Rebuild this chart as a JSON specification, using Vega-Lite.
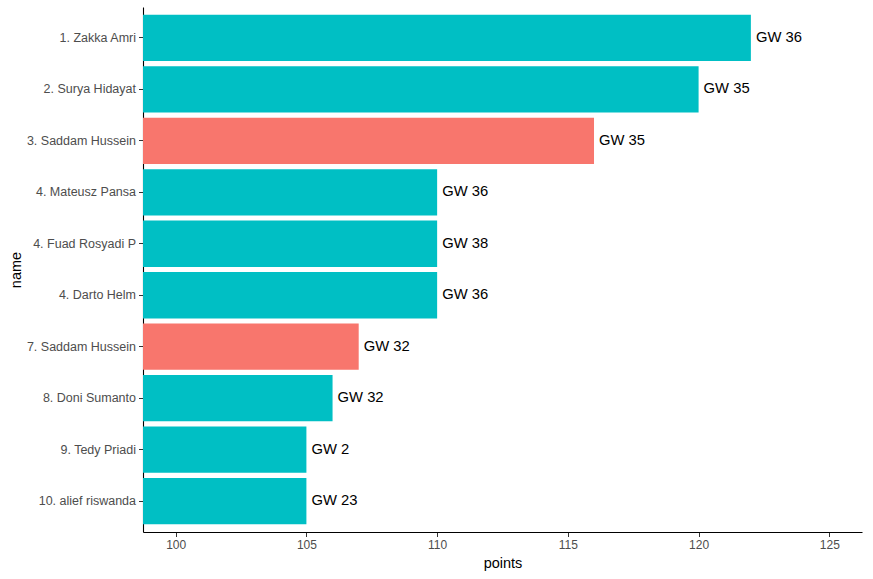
{
  "$schema": "https://vega.github.io/schema/vega-lite/v6.json",
  "autosize": {"type": "none"},
  "padding": {"left": 143, "top": 7, "right": 11, "bottom": 47},
  "width": 719,
  "height": 525,
  "background": "white",
  "data": {
    "values": [
      {"name": "1. Zakka Amri", "points": 122, "label": "GW 36", "group": "other"},
      {"name": "2. Surya Hidayat", "points": 120, "label": "GW 35", "group": "other"},
      {"name": "3. Saddam Hussein", "points": 116, "label": "GW 35", "group": "me"},
      {"name": "4. Mateusz Pansa", "points": 110, "label": "GW 36", "group": "other"},
      {"name": "4. Fuad Rosyadi P", "points": 110, "label": "GW 38", "group": "other"},
      {"name": "4. Darto Helm", "points": 110, "label": "GW 36", "group": "other"},
      {"name": "7. Saddam Hussein", "points": 107, "label": "GW 32", "group": "me"},
      {"name": "8. Doni Sumanto", "points": 106, "label": "GW 32", "group": "other"},
      {"name": "9. Tedy Priadi", "points": 105, "label": "GW 2", "group": "other"},
      {"name": "10. alief riswanda", "points": 105, "label": "GW 23", "group": "other"}
    ]
  },
  "encoding": {
    "y": {
      "field": "name",
      "type": "nominal",
      "sort": null,
      "scale": {"paddingInner": 0.1, "paddingOuter": 0.15},
      "axis": {
        "title": "name",
        "titlePadding": 3,
        "titleFontWeight": "normal",
        "titleFontSize": 14.5,
        "titleColor": "black",
        "labelFontSize": 12.5,
        "labelColor": "#4D4D4D",
        "labelPadding": 3,
        "tickSize": 4.5,
        "tickColor": "#333333",
        "domainColor": "black",
        "domainWidth": 1.1
      }
    },
    "x": {
      "field": "points",
      "type": "quantitative",
      "scale": {"domain": [98.75, 126.25], "zero": false, "nice": false},
      "axis": {
        "values": [100, 105, 110, 115, 120, 125],
        "title": "points",
        "titlePadding": 6,
        "titleFontWeight": "normal",
        "titleFontSize": 14.5,
        "titleColor": "black",
        "labelFontSize": 12,
        "labelColor": "#4D4D4D",
        "labelPadding": 3,
        "labelFlush": false,
        "tickSize": 4.5,
        "tickColor": "#333333",
        "domainColor": "black",
        "domainWidth": 1.1,
        "grid": false
      }
    }
  },
  "layer": [
    {
      "mark": {"type": "bar", "clip": true},
      "encoding": {
        "color": {
          "field": "group",
          "type": "nominal",
          "scale": {"domain": ["me", "other"], "range": ["#F8766D", "#00BFC4"]},
          "legend": null
        }
      }
    },
    {
      "mark": {"type": "text", "align": "left", "baseline": "middle", "dx": 5, "fontSize": 14.8, "color": "black"},
      "encoding": {"text": {"field": "label", "type": "nominal"}}
    }
  ],
  "config": {
    "font": "Liberation Sans",
    "view": {"stroke": null}
  }
}
